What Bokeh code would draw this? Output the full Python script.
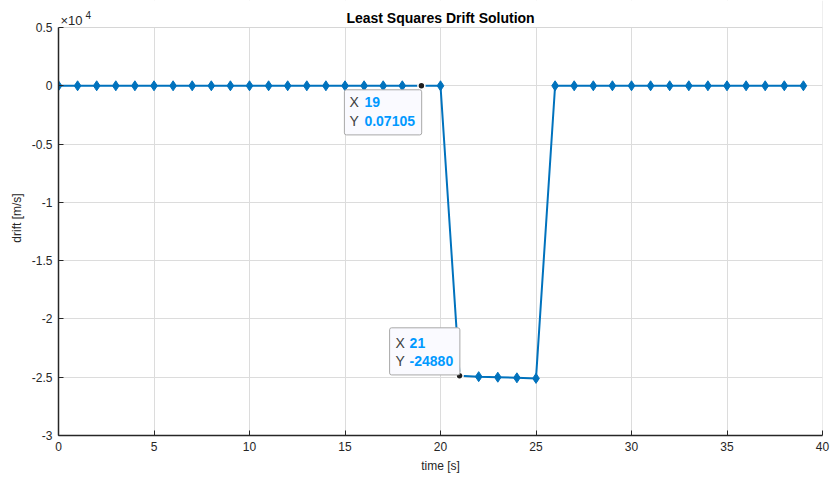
from bokeh.plotting import figure
from bokeh.models import (Range1d, FixedTicker, CustomJSTickFormatter, Label,
                          ColumnDataSource, Span, BoxAnnotation)
from bokeh.embed import file_html
from bokeh.resources import INLINE

# Least-squares drift estimate per time step
time_s = list(range(40))
drift = [0.0, 0.0, 0.0, 0.0, 0.0, 0.0, 0.0, 0.0, 0.0, 0.0,
         0.0, 0.0, 0.0, 0.0, 0.0, 0.0, 0.0, 0.0, 0.0, 0.07105,
         0.0, -24880.0, -24950.0, -25000.0, -25050.0, -25100.0, 0.0, 0.0, 0.0, 0.0,
         0.0, 0.0, 0.0, 0.0, 0.0, 0.0, 0.0, 0.0, 0.0, 0.0]

x_ticks = [0, 5, 10, 15, 20, 25, 30, 35, 40]
y_ticks = [-30000, -25000, -20000, -15000, -10000, -5000, 0, 5000]

title_text = "Least Squares Drift Solution"

# data tips shown on the curve (indices into the series)
tip_index = [19, 21]

FONT = "Liberation Sans"
AX = "#262626"
BLUE = "#0072BD"
GRID = "#dcdcdc"

# axes box: x 0..40, y -3e4..5e3; the drawing frame reaches the top edge so the
# title and the exponent can sit above the box without being clipped
W, H = 832, 481
box_top_px, box_bottom_px = 27, 435
x_lo, x_hi = x_ticks[0], x_ticks[-1]
y_lo, y_hi = y_ticks[0], y_ticks[-1]
units_per_px = (y_hi - y_lo) / (box_bottom_px - box_top_px)
y_canvas_top = y_hi + box_top_px * units_per_px

p = figure(width=W, height=H, output_backend="svg", toolbar_location=None,
           x_range=Range1d(x_lo, x_hi), y_range=Range1d(y_lo, y_canvas_top),
           min_border_left=58, min_border_right=10, min_border_top=0,
           min_border_bottom=H - box_bottom_px, background_fill_color="white",
           border_fill_color="white")
p.outline_line_color = None

for ax in (p.xaxis[0], p.yaxis[0]):
    ax.axis_line_color = AX
    ax.axis_line_width = 1.5
    ax.major_tick_line_color = AX
    ax.major_tick_in = 5
    ax.major_tick_out = 0
    ax.minor_tick_line_color = None
    ax.major_label_text_font = FONT
    ax.major_label_text_font_size = "12px"
    ax.major_label_text_color = AX
    ax.major_label_standoff = 6
    ax.axis_label_text_font = FONT
    ax.axis_label_text_font_size = "12px"
    ax.axis_label_text_font_style = "normal"
    ax.axis_label_text_color = AX
    ax.axis_label_standoff = 5

p.xaxis.ticker = FixedTicker(ticks=x_ticks)
p.yaxis.ticker = FixedTicker(ticks=y_ticks)
p.yaxis.bounds = (y_lo, y_hi)
p.yaxis.formatter = CustomJSTickFormatter(code="return (tick / 10000).toString();")
p.xaxis.axis_label = "time [s]"
p.yaxis.axis_label = "drift [m/s]"

p.xgrid.ticker = FixedTicker(ticks=x_ticks)
p.ygrid.ticker = FixedTicker(ticks=y_ticks)
for g in (p.xgrid[0], p.ygrid[0]):
    g.grid_line_color = GRID
    g.grid_line_width = 1

# light right/top edges of the axes box; blank out grid above the box
p.add_layout(Span(location=x_hi, dimension="height", line_color="#d6d6d6",
                  line_width=1, level="underlay"))
p.add_layout(BoxAnnotation(bottom=y_hi, fill_color="white", fill_alpha=1.0,
                           line_color=None, level="underlay"))
p.add_layout(Span(location=y_hi, dimension="width", line_color="#d6d6d6",
                  line_width=1, level="underlay"))

# title and axis exponent
p.add_layout(Label(x=(x_lo + x_hi) / 2, y=y_hi, y_offset=10, text=title_text,
                   text_font=FONT, text_font_size="14px",
                   text_font_style="bold", text_color="#000000",
                   text_align="center", text_baseline="alphabetic"))
p.add_layout(Label(x=x_lo, y=y_hi, x_offset=2, y_offset=7, text="\u00d710",
                   text_font=FONT, text_font_size="13px", text_color=AX,
                   text_align="left", text_baseline="alphabetic"))
p.add_layout(Label(x=x_lo, y=y_hi, x_offset=27, y_offset=13, text="4",
                   text_font=FONT, text_font_size="10px", text_color=AX,
                   text_align="left", text_baseline="alphabetic"))

src = ColumnDataSource(dict(t=time_s, d=drift))
p.line("t", "d", source=src, line_color=BLUE, line_width=2)

plain = [i for i in range(len(time_s)) if i not in tip_index]
p.scatter([time_s[i] for i in plain], [drift[i] for i in plain], marker="diamond",
          size=10, fill_color=BLUE, line_color=BLUE, line_width=1)
p.scatter([time_s[i] for i in tip_index], [drift[i] for i in tip_index],
          marker="circle", size=7, fill_color="#1e1e1e", line_color="white",
          line_width=1.5)

# data tip boxes: (box dx, box dy, box w, box h, text dx, value dx, X row dy, Y row dy)
tip_layout = [
    (-77, -4, 77, 44, -72, -57, -16, -35),
    (-70, 48, 70, 46, -64, -50, 33, 15),
]

for i, (bx, by, bw, bh, tx, vx, xr, yr) in zip(tip_index, tip_layout):
    xv, yv = time_s[i], drift[i]
    p.add_layout(Label(x=xv, y=yv, x_offset=bx, y_offset=by, text=" ",
                       text_font_size="1px", anchor="top_left",
                       padding=dict(left=0, right=bw, top=0, bottom=bh),
                       background_fill_color="#fafaff",
                       border_line_color="#a8a8a8", border_line_width=1,
                       border_radius=2))
    for lab, row, val in (("X", xr, f"{xv:g}"), ("Y", yr, f"{yv:g}")):
        p.add_layout(Label(x=xv, y=yv, x_offset=tx, y_offset=row, text=lab,
                           text_font=FONT, text_font_size="14px",
                           text_color="#404040", text_align="left",
                           text_baseline="middle"))
        p.add_layout(Label(x=xv, y=yv, x_offset=vx, y_offset=row, text=val,
                           text_font=FONT, text_font_size="14px",
                           text_font_style="bold", text_color="#0099FF",
                           text_align="left", text_baseline="middle"))

open("out.html", "w").write(file_html(p, INLINE))
